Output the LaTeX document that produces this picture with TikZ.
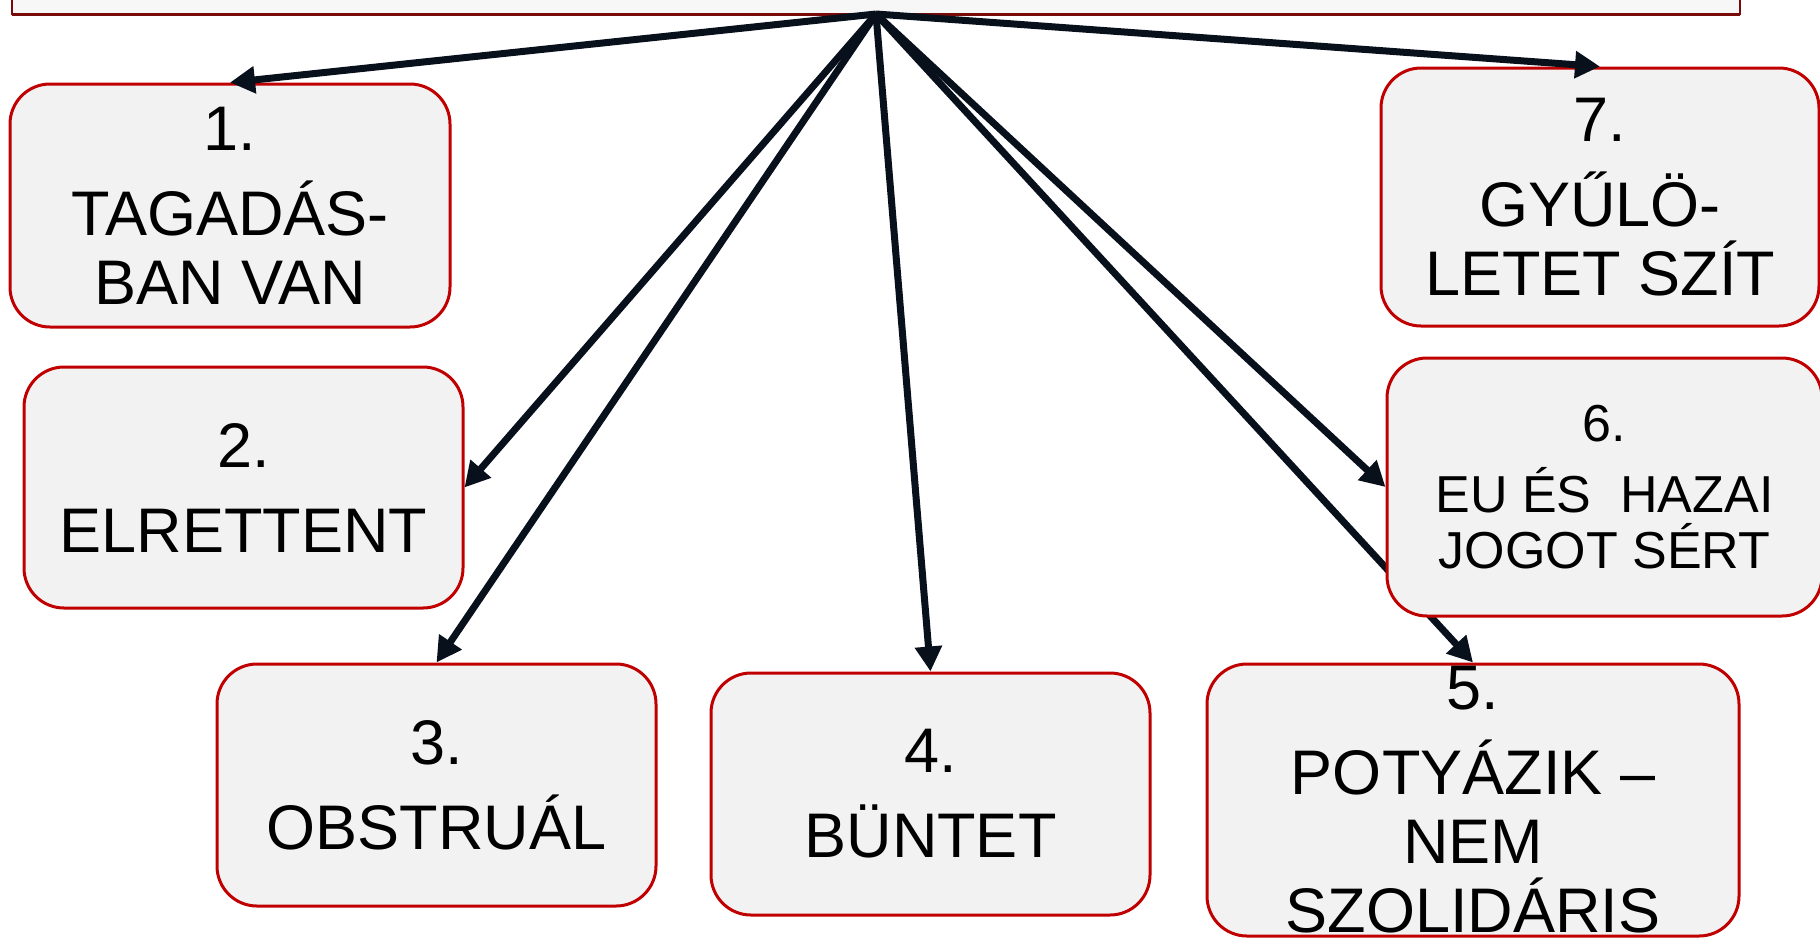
\documentclass[tikz,border=0pt]{standalone}
\usepackage{fontspec}
\setmainfont{Liberation Sans}
\usetikzlibrary{arrows.meta}
\definecolor{boxred}{HTML}{C00000}
\definecolor{boxfill}{HTML}{F2F2F2}
\definecolor{barfill}{HTML}{F7F7F7}
\definecolor{bardark}{HTML}{7A0A0A}
\definecolor{arrowcol}{HTML}{08101C}
\tikzset{
  item/.style={draw=boxred, fill=boxfill, line width=3pt, rounded corners=40pt,
    inner sep=0pt, align=center, font=\fontsize{63}{69}\selectfont},
  itemsmall/.style={item, font=\fontsize{52}{56}\selectfont},
  bar/.style={draw=bardark, fill=barfill, line width=1.5pt, inner sep=0pt, outer sep=0pt},
  link/.style={draw=arrowcol, line width=7pt,
    -{Triangle[length=25pt,width=26pt]}}
}
\begin{document}
\begin{tikzpicture}[x=1pt,y=-1pt]
\useasboundingbox (0,0) rectangle (1820,938);
\clip (0,0) rectangle (1820,938);
% top bar
\node[bar, minimum width=1728pt, minimum height=48pt] (top) at (876,-10) {};
\draw[bardark, line width=3pt] (top.south west) -- (top.south east);
% boxes (all but 6)
\node[item, minimum width=440pt, minimum height=243pt] (b1) at (230,205.5)
  {1.\\[16pt]TAGADÁS-\\BAN VAN};
\node[item, minimum width=439pt, minimum height=241pt] (b2) at (243.5,487.5)
  {2.\\[16pt]ELRETTENT};
\node[item, minimum width=439pt, minimum height=242pt] (b3) at (436.5,785)
  {3.\\[16pt]OBSTRUÁL};
\node[item, minimum width=439pt, minimum height=242pt] (b4) at (930.5,794)
  {4.\\[16pt]BÜNTET};
\node[item, minimum width=532pt, minimum height=272pt] (b5) at (1473,800)
  {5.\\[16pt]POTYÁZIK –\\NEM\\SZOLIDÁRIS};
\node[item, minimum width=438pt, minimum height=258pt] (b7) at (1600,197)
  {7.\\[16pt]GYŰLÖ-\\LETET SZÍT};
% arrow to 5 passes beneath box 6
\draw[link] (top.south) -- (b5.north);
\node[itemsmall, minimum width=435pt, minimum height=258pt] (b6) at (1604.5,487)
  {6.\\[15pt]EU ÉS\ \ HAZAI\\JOGOT SÉRT};
% other arrows
\draw[link] (top.south) -- (b1.north);
\draw[link] (top.south) -- (b2.east);
\draw[link] (top.south) -- (b3.north);
\draw[link] (top.south) -- (b4.north);
\draw[link] (top.south) -- (b6.west);
\draw[link] (top.south) -- (b7.north);
\end{tikzpicture}
\end{document}
